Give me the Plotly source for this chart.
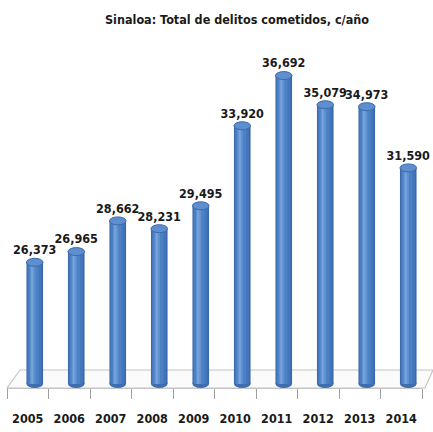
import plotly.graph_objects as go

years = ["2005", "2006", "2007", "2008", "2009", "2010", "2011", "2012", "2013", "2014"]
delitos = [26373, 26965, 28662, 28231, 29495, 33920, 36692, 35079, 34973, 31590]
labels = ["26,373", "26,965", "28,662", "28,231", "29,495", "33,920", "36,692", "35,079", "34,973", "31,590"]
title = "Sinaloa: Total de delitos cometidos, c/año"

W, H = 433, 432
BASE = 19650
YMIN, YMAX = 19300, 40000
y_bot_px = 390.3
y_top_px = 15.7
ppu = (y_bot_px - y_top_px) / (YMAX - YMIN)

FONT = "DejaVu Sans Condensed, DejaVu Sans"

fig = go.Figure()

bar_w = 0.40
layers = [
    (bar_w, 0.0, "#3b68a9"),
    (0.34, -0.01, "#4476bb"),
    (0.25, -0.03, "#4c81c6"),
    (0.13, -0.05, "#6092d2"),
    (0.05, -0.06, "#76a3dc"),
]
n = len(years)
for w, shift, col in layers:
    fig.add_trace(go.Bar(
        x=years, y=[v - BASE for v in delitos], base=BASE,
        width=[w] * n, offset=[shift - w / 2] * n,
        marker=dict(color=col, line=dict(width=0)),
        hoverinfo="skip", showlegend=False, xaxis="x", yaxis="y",
    ))

label_gap = 5.0 / ppu
fig.add_trace(go.Scatter(
    x=years, y=[v + label_gap for v in delitos], mode="text", text=labels,
    textposition="top center",
    textfont=dict(family=FONT, size=12.5, color="#1a1a1a", weight="bold"),
    showlegend=False, hoverinfo="skip", xaxis="x", yaxis="y", cliponaxis=False,
))

fig.add_trace(go.Scatter(
    x=years, y=delitos, mode="markers", marker=dict(opacity=0),
    showlegend=False, hoverinfo="skip", xaxis="x2", yaxis="y",
))

shapes = []
eh = 4.0 / ppu
ew = bar_w / 2
for i, v in enumerate(delitos):
    shapes.append(dict(type="circle", xref="x", yref="y", layer="below",
                       x0=i - ew, x1=i + ew, y0=BASE - eh, y1=BASE + eh,
                       fillcolor="#3f6eae", line=dict(width=0)))
    shapes.append(dict(type="circle", xref="x", yref="y", layer="above",
                       x0=i - ew, x1=i + ew, y0=v - eh, y1=v + eh,
                       fillcolor="#5d8ed0", line=dict(width=1, color="#3f6aa8")))

def px(x):
    return x / W

def py(y):
    return 1 - y / H

floor_col = "#c4c4c4"
shapes = [
    dict(type="path", xref="paper", yref="paper", layer="below",
         path=f"M {px(7)},{py(388)} L {px(20)},{py(370)} L {px(433)},{py(370)} L {px(425)},{py(388)} Z",
         fillcolor="#fbfbfb", line=dict(color=floor_col, width=1.2)),
] + shapes

fig.update_layout(
    width=W, height=H,
    margin=dict(l=0, r=0, t=0, b=0),
    paper_bgcolor="white", plot_bgcolor="rgba(0,0,0,0)",
    barmode="overlay",
    title=dict(text=title, x=237 / W, xanchor="center", y=1 - 20 / H, yanchor="middle",
               font=dict(family=FONT, size=12.5, color="#1a1a1a", weight="bold")),
    xaxis=dict(domain=[14 / W, 429 / W], type="category", showticklabels=False,
               showline=False, showgrid=False, zeroline=False, ticks="",
               range=[-0.5, n - 0.5]),
    xaxis2=dict(domain=[7 / W, 422 / W], type="category", anchor="free",
                position=py(388), showline=True, linecolor=floor_col, linewidth=1.2,
                ticks="outside", tickson="boundaries", ticklen=10, tickcolor="#a0a0a0",
                tickwidth=1, showgrid=False, zeroline=False, ticklabelstandoff=19,
                tickangle=0,
                tickfont=dict(family=FONT, size=12.5, color="#1a1a1a", weight="bold"),
                range=[-0.5, n - 0.5]),
    yaxis=dict(domain=[py(y_bot_px), py(y_top_px)], range=[YMIN, YMAX],
               visible=False, showgrid=False, zeroline=False),
    shapes=shapes,
)

fig.write_html("out.html", config={"displayModeBar": False},
               post_script="document.body.style.margin='0';document.body.style.padding='0';")
